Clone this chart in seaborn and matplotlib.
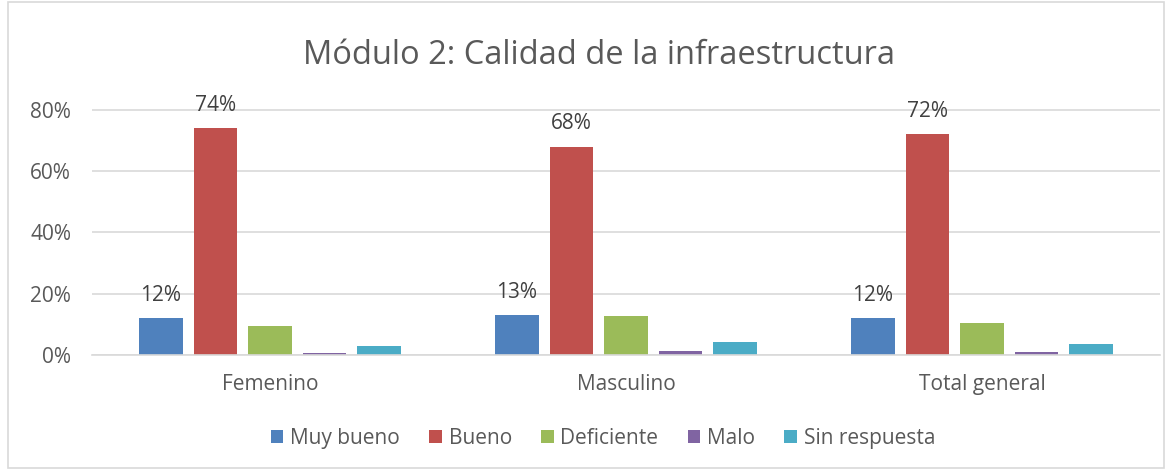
import matplotlib
matplotlib.use("Agg")
import matplotlib.pyplot as plt
from matplotlib.patches import Rectangle
import seaborn as sns
import pandas as pd

groups = ["Femenino", "Masculino", "Total general"]
responses = ["Muy bueno", "Bueno", "Deficiente", "Malo", "Sin respuesta"]
muy_bueno = [12, 13, 12]
bueno = [74, 68, 72]
deficiente = [9.5, 12.6, 10.5]
malo = [0.6, 1.3, 1.0]
sin_respuesta = [3.0, 4.4, 3.6]
colors = ["#4F81BD", "#C0504D", "#9BBB59", "#8064A2", "#4BACC6"]
y_ticks = [0, 20, 40, 60, 80]

series = [muy_bueno, bueno, deficiente, malo, sin_respuesta]
rows = []
for resp, vals in zip(responses, series):
    for g, v in zip(groups, vals):
        rows.append({"grupo": g, "respuesta": resp, "valor": v})
df = pd.DataFrame(rows)

sns.set_theme(style="white")
plt.rcParams["font.family"] = ["Open Sans", "DejaVu Sans"]
text_color = "#595959"

fig = plt.figure(figsize=(11.74, 4.69), dpi=100)
ax = fig.add_axes([92 / 1174, 1 - 355 / 469, 1068 / 1174, 265 / 469])

sns.barplot(data=df, x="grupo", y="valor", hue="respuesta", order=groups,
            hue_order=responses, palette=colors, width=0.766, gap=0.2,
            saturation=1, ax=ax, legend=True, edgecolor="none")

ax.set_ylim(0, 86.5)
ax.set_xlim(-0.5, 2.5)
ax.set_yticks(y_ticks)
ax.set_yticklabels([f"{t}%" for t in y_ticks], color=text_color, fontsize=15)
ax.tick_params(axis="x", colors=text_color, labelsize=15, length=0, pad=14)
ax.tick_params(axis="y", length=0, pad=15)
ax.set_xlabel("")
ax.set_ylabel("")
ax.yaxis.grid(True, color="#D9D9D9", linewidth=1.2)
ax.set_axisbelow(True)
for s in ["top", "right", "left"]:
    ax.spines[s].set_visible(False)
ax.spines["bottom"].set_color("#D9D9D9")
ax.spines["bottom"].set_linewidth(1.2)

# value labels for the first two response series
for container, resp in zip(ax.containers, responses):
    if resp in ("Muy bueno", "Bueno"):
        ax.bar_label(container, labels=[f"{v:.0f}%" for v in container.datavalues],
                     padding=9, color="#404040", fontsize=15)

handles, labels = ax.get_legend_handles_labels()
ax.legend_.remove()
fig.legend(handles, labels, loc="center", bbox_to_anchor=(603 / 1174, 1 - 438 / 469),
           ncol=5, frameon=False, fontsize=15, handlelength=0.6, handleheight=0.6,
           handletextpad=0.33, columnspacing=1.4, labelcolor=text_color)

fig.text(599 / 1174, 1 - 56 / 469, "Módulo 2: Calidad de la infraestructura",
         ha="center", va="center", fontsize=23.5, color=text_color)

fig.patches.append(Rectangle((8 / 1174, 0.002), 1156 / 1174, 0.994,
                             transform=fig.transFigure, fill=False,
                             edgecolor="#D9D9D9", linewidth=1.2))

fig.savefig("out.png", dpi=100)
